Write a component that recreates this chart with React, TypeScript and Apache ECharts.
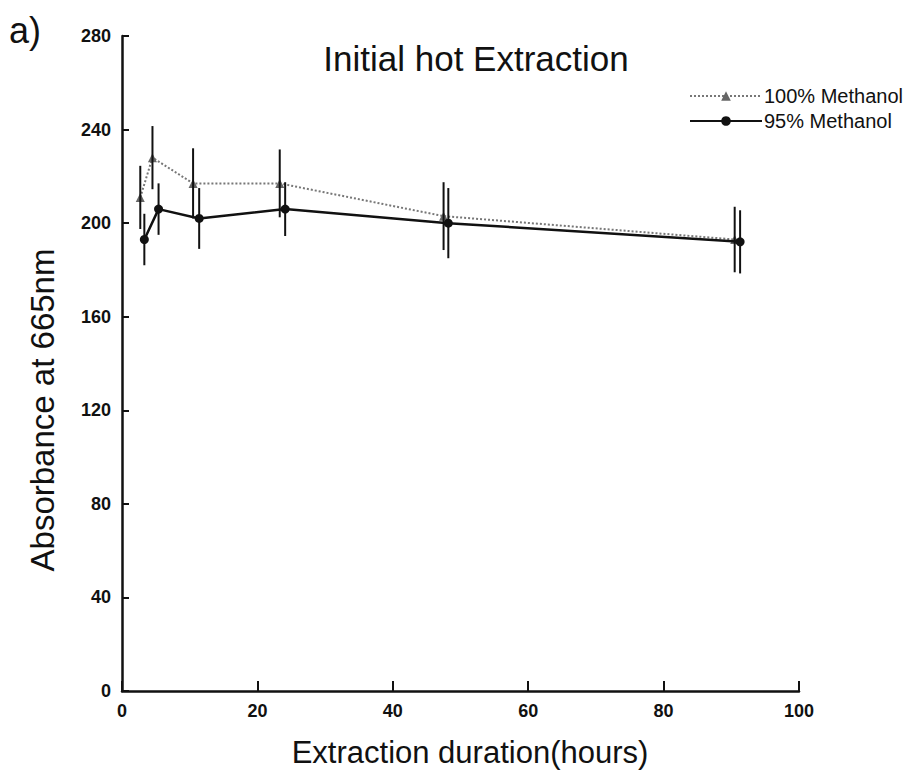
import React, { useEffect, useRef } from 'react';
import * as echarts from 'echarts';

// 100% Methanol
const hours100 = [2.7, 4.5, 10.5, 23.3, 47.5, 90.5];
const abs100 = [211, 228, 217, 217, 203, 193];
const err100 = [13.5, 13.5, 15, 14.5, 14.5, 14];

// 95% Methanol
const hours95 = [3.3, 5.4, 11.4, 24.1, 48.2, 91.3];
const abs95 = [193, 206, 202, 206, 200, 192];
const err95 = [11, 11, 13, 11.5, 15, 13.5];

const seriesNames = ['100% Methanol', '95% Methanol'];
const titleText = 'Initial hot Extraction';
const panelLabel = 'a)';
const xName = 'Extraction duration(hours)';
const yName = 'Absorbance at 665nm';

const FONT = '"Liberation Sans", Arial, sans-serif';

function errorBarSeries(hours: number[], vals: number[], errs: number[]) {
  return {
    type: 'custom',
    silent: true,
    z: 3,
    data: hours.map((h, i) => [h, vals[i] - errs[i], vals[i] + errs[i]]),
    encode: { x: 0, y: [1, 2] },
    renderItem: (params: any, api: any) => {
      const x = api.value(0);
      const lo = api.coord([x, api.value(1)]);
      const hi = api.coord([x, api.value(2)]);
      return {
        type: 'line',
        shape: { x1: lo[0], y1: lo[1], x2: hi[0], y2: hi[1] },
        style: { stroke: '#111', lineWidth: 2 },
      };
    },
  };
}

export default function App() {
  const ref = useRef<HTMLDivElement>(null);
  useEffect(() => {
    const chart = echarts.init(ref.current!, null, { renderer: 'svg' });
    const option: any = {
      animation: false,
      backgroundColor: '#ffffff',
      textStyle: { fontFamily: FONT },
      grid: { left: 122, right: 111, top: 36, bottom: 82, containLabel: false },
      graphic: [
        {
          type: 'text',
          left: 9,
          top: 12,
          style: { text: panelLabel, font: `36px ${FONT}`, fill: '#111' },
        },
        {
          type: 'text',
          x: 476,
          y: 58,
          style: {
            text: titleText,
            font: `35px ${FONT}`,
            fill: '#111',
            textAlign: 'center',
            textVerticalAlign: 'middle',
          },
        },
        {
          type: 'text',
          x: 42,
          y: 410,
          rotation: Math.PI / 2,
          style: {
            text: yName,
            font: `33px ${FONT}`,
            fill: '#111',
            textAlign: 'center',
            textVerticalAlign: 'middle',
          },
        },
        {
          type: 'text',
          x: 470,
          y: 752,
          style: {
            text: xName,
            font: `31px ${FONT}`,
            fill: '#111',
            textAlign: 'center',
            textVerticalAlign: 'middle',
          },
        },
      ],
      legend: {
        data: seriesNames,
        orient: 'vertical',
        left: 684,
        top: 81,
        itemWidth: 72,
        itemHeight: 12,
        itemGap: 5,
        textStyle: { fontSize: 20, fontFamily: FONT, color: '#111', padding: [0, 0, 0, -3], lineHeight: 20 },
      },
      xAxis: {
        type: 'value',
        min: 0,
        max: 100,
        interval: 20,
        axisLine: { lineStyle: { color: '#111', width: 2.5 } },
        axisTick: { inside: true, length: 10, lineStyle: { color: '#111', width: 2 } },
        axisLabel: { fontSize: 18, fontWeight: 'bold', color: '#111', margin: 11, fontFamily: FONT },
        splitLine: { show: false },
      },
      yAxis: {
        type: 'value',
        min: 0,
        max: 280,
        interval: 40,
        axisLine: { show: true, lineStyle: { color: '#111', width: 2.5 } },
        axisTick: { show: true, inside: true, length: 7, lineStyle: { color: '#111', width: 2 } },
        axisLabel: { fontSize: 18, fontWeight: 'bold', color: '#111', margin: 11, fontFamily: FONT },
        splitLine: { show: false },
      },
      series: [
        {
          name: seriesNames[0],
          type: 'line',
          data: hours100.map((h, i) => [h, abs100[i]]),
          symbol: 'triangle',
          symbolSize: 9,
          itemStyle: { color: '#666' },
          lineStyle: { color: '#777', width: 2, type: 'dotted' },
          z: 2,
        },
        {
          name: seriesNames[1],
          type: 'line',
          data: hours95.map((h, i) => [h, abs95[i]]),
          symbol: 'circle',
          symbolSize: 9,
          itemStyle: { color: '#111' },
          lineStyle: { color: '#111', width: 2.5, type: 'solid' },
          z: 4,
        },
        errorBarSeries(hours100, abs100, err100),
        errorBarSeries(hours95, abs95, err95),
      ],
    };
    chart.setOption(option);
    return () => chart.dispose();
  }, []);
  return (
    <div
      ref={ref}
      style={{ position: 'fixed', left: 0, top: 0, width: 910, height: 773 }}
    />
  );
}
